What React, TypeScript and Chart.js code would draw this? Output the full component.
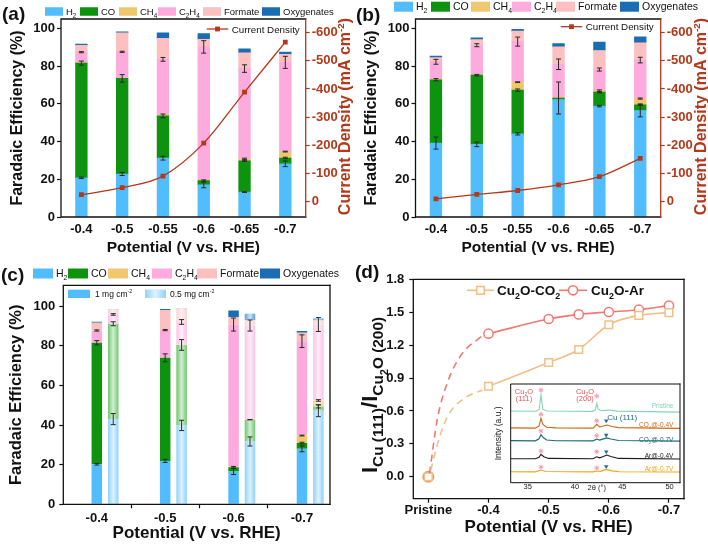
import React, { useEffect, useRef } from 'react';
import { Chart, registerables } from 'chart.js';

Chart.register(...registerables);

const FONT = "Arial, 'Liberation Sans', 'DejaVu Sans', sans-serif";
Chart.defaults.font.family = FONT;

// ---------------- data: panels (a) and (b) ----------------
const potentialsAB = ['-0.4', '-0.5', '-0.55', '-0.6', '-0.65', '-0.7'];

// (a) Faradaic efficiency (%)
const aH2 = [20.8, 22.8, 31.2, 17.0, 13.2, 28.2];
const aCO = [60.8, 50.7, 22.4, 2.3, 16.6, 3.1];
const aCH4 = [0.2, 0.2, 0.7, 0.2, 1.0, 3.4];
const aC2H4 = [5.6, 13.9, 29.3, 70.7, 47.9, 47.3];
const aFormate = [3.7, 10.0, 11.1, 4.0, 8.4, 4.2];
const aOxy = [0.6, 0.6, 3.0, 3.1, 2.1, 1.2];
const aH2Err = [0.4, 0.8, 1.0, 1.5, 0.2, 1.5];
const aCOErr = [1.1, 2.0, 1.0, 0.4, 0.3, 0.4];
const aCH4Err = [0, 0, 0, 0, 0.4, 0.2];
const aC2H4Err = [0.3, 0.3, 1.0, 3.3, 2.0, 3.2];
const aCurrent = [25, 50, 91, 208, 389, 566]; // |j| mA cm-2

// (b)
const bH2 = [39.2, 38.5, 44.1, 62.3, 58.8, 56.5];
const bCO = [33.6, 36.7, 23.2, 0.8, 7.4, 3.0];
const bCH4 = [0.2, 0.2, 4.2, 0.2, 0.7, 3.3];
const bC2H4 = [9.3, 15.7, 21.5, 17.7, 11.3, 20.4];
const bFormate = [2.2, 3.0, 5.6, 9.2, 10.1, 9.2];
const bOxy = [0.8, 0.9, 0.9, 1.8, 4.4, 3.2];
const bH2Err = [3.2, 1.2, 0.6, 0, 0.4, 3.4];
const bCOErr = [0.6, 0.4, 0.6, 8.5, 0.4, 0.3];
const bCH4Err = [0, 0, 0.2, 0, 0.5, 0.3];
const bC2H4Err = [1.3, 0.8, 2.4, 2.8, 0.8, 1.5];
const bCurrent = [10, 26, 40, 60, 89, 154];

// ---------------- data: panel (c) ----------------
const potentialsC = ['-0.4', '-0.5', '-0.6', '-0.7'];
const c1H2 = [20.2, 21.9, 16.5, 28.0];
const c1CO = [61.3, 52.0, 2.2, 2.9];
const c1CH4 = [0.2, 0.2, 0.2, 3.8];
const c1C2H4 = [6.0, 13.8, 71.8, 47.6];
const c1Formate = [3.9, 10.1, 3.7, 4.2];
const c1Oxy = [0.5, 0.5, 3.4, 1.0];
const c1H2Err = [0.4, 0.8, 1.5, 1.5];
const c1COErr = [1.1, 2.0, 0.4, 0.4];
const c1CH4Err = [0, 0, 0, 0.2];
const c1C2H4Err = [0.3, 0.3, 3.3, 3.2];

const c05H2 = [43.0, 39.8, 31.7, 47.2];
const c05CO = [48.1, 40.6, 11.0, 2.2];
const c05CH4 = [0, 0.2, 0, 3.0];
const c05C2H4 = [4.7, 11.4, 47.5, 38.3];
const c05Formate = [2.5, 6.8, 2.7, 2.0];
const c05Oxy = [0.2, 0.3, 3.2, 1.1];
const c05H2Err = [2.8, 2.6, 2.3, 3.0];
const c05COErr = [1.0, 2.7, 0.1, 0.8];
const c05CH4Err = [0, 0, 0, 0.4];
const c05C2H4Err = [0.4, 1.2, 2.8, 3.5];

// ---------------- data: panel (d) ----------------
const dTickVals = [0.3, 0.4, 0.5, 0.6, 0.7];
const dTickLabels = ['Pristine', '-0.4', '-0.5', '-0.6', '-0.7'];
const dYTicks = [0, 0.3, 0.6, 0.9, 1.2, 1.5, 1.8];
const dPotential = [0.4, 0.5, 0.55, 0.6, 0.65, 0.7];
const dCO2 = [0.825, 1.042, 1.16, 1.386, 1.471, 1.496];
const dAr = [1.304, 1.438, 1.48, 1.502, 1.523, 1.56];
const dPristine = [0.3, 0];
const dDashArX = [0.302, 0.315, 0.332, 0.354, 0.39];
const dDashArY = [0.03, 0.527, 0.862, 1.106, 1.288];
const dDashCO2X = [0.304, 0.318, 0.333, 0.361, 0.39];
const dDashCO2Y = [0.06, 0.35, 0.56, 0.72, 0.79];

// inset XRD traces: [2theta, intensity]
const xrdPristine = [[33.2, 72.6], [35.9, 72.4], [36.2, 74], [36.4, 88.9], [36.6, 74.5], [37.0, 72.6], [41.9, 72.3], [42.15, 74], [42.3, 80.4], [42.45, 74.5], [42.8, 73], [43.6, 73.6], [44.5, 72.5], [51.1, 71.5]];
const xrdCO2_04 = [[33.2, 55.5], [35.8, 55.3], [36.2, 57.5], [36.4, 65.2], [36.6, 59], [37.0, 56.2], [38, 55.5], [41.9, 55.3], [42.3, 59.2], [42.6, 56.5], [43.0, 57.5], [43.4, 58.5], [43.9, 57], [44.6, 55.8], [51.1, 55]];
const xrdCO2_07 = [[33.2, 42.6], [35.8, 42.4], [36.2, 44.5], [36.4, 48.8], [36.6, 46], [37.0, 43.3], [38, 42.5], [41.9, 42.4], [42.3, 44.2], [42.6, 43.2], [43.0, 44.4], [43.35, 45.4], [43.8, 44.3], [44.6, 42.8], [51.1, 42.1]];
const xrdAr_04 = [[33.2, 24.3], [35.8, 24.2], [36.2, 25.8], [36.4, 28.8], [36.7, 26.3], [37.2, 24.6], [41.9, 24.3], [42.3, 26.3], [42.6, 25.2], [43.0, 26.5], [43.35, 28], [43.8, 26.5], [44.6, 24.6], [51.1, 24]];
const xrdAr_07 = [[33.2, 11.1], [35.8, 11], [36.4, 12.8], [36.9, 11.3], [41.9, 11], [42.3, 11.8], [42.7, 11.5], [43.3, 13.5], [43.9, 12], [44.7, 11.1], [51.1, 10.8]];
const xrdStarX = [36.4, 42.3, 36.4, 42.3, 36.4, 42.3, 36.4, 42.3, 36.4, 42.3];
const xrdStarY = [93.9, 87.8, 69.3, 62.8, 52.4, 47.6, 32.1, 31.4, 15.8, 14.9];
const xrdCuX = [43.3, 43.3, 43.3, 43.3];
const xrdCuY = [62.8, 48.3, 31.4, 16.4];
const xrdLabelY = [77.7, 58.5, 43.3, 27.0, 13.9];

// ---------------- styles ----------------
const COL = ['#52bdfc', '#0d930d', '#efc76e', '#fdaadc', '#fcc0c0', '#1a6db3'];
const COL_LIGHT = ['#8fd2fb', '#6fc66f', '#f3d592', '#fcc3e6', '#fdd2d2', '#5f9fd6'];
const RED = '#b3391a';
const INK = '#111';

type Part = [string, string];
const LEGEND_PARTS: Part[][] = [
  [['H', 'n'], ['2', 'sub']],
  [['CO', 'n']],
  [['CH', 'n'], ['4', 'sub']],
  [['C', 'n'], ['2', 'sub'], ['H', 'n'], ['4', 'sub']],
  [['Formate', 'n']],
  [['Oxygenates', 'n']],
];

function richDraw(ctx: CanvasRenderingContext2D, parts: Part[], x: number, y: number, size: number, weight: string, color: string, align: string = 'left', subRatio: number = 0.66) {
  const spec = (k: string) =>
    k === 'sub' ? { s: size * subRatio, dy: size * 0.28 } :
    k === 'sup' ? { s: size * 0.62, dy: -size * 0.4 } :
    k === 'sub2' ? { s: size * 0.5, dy: size * 0.5 } : { s: size, dy: 0 };
  let w = 0;
  for (const [t, k] of parts) { ctx.font = `${weight} ${spec(k).s}px ${FONT}`; w += ctx.measureText(t).width; }
  let cx = align === 'left' ? x : align === 'center' ? x - w / 2 : x - w;
  ctx.save();
  ctx.fillStyle = color;
  ctx.textBaseline = 'alphabetic';
  ctx.textAlign = 'left';
  const base = y + size * 0.36;
  for (const [t, k] of parts) {
    const sp = spec(k);
    ctx.font = `${weight} ${sp.s}px ${FONT}`;
    ctx.fillText(t, cx, base + sp.dy);
    cx += ctx.measureText(t).width;
  }
  ctx.restore();
  return w;
}

function frame(ctx: CanvasRenderingContext2D, a: any, right: string = INK, lw: number = 1.3) {
  ctx.save();
  ctx.lineCap = 'square';
  ctx.lineWidth = lw;
  ctx.strokeStyle = INK;
  ctx.beginPath();
  ctx.moveTo(a.right, a.top); ctx.lineTo(a.left, a.top); ctx.lineTo(a.left, a.bottom); ctx.lineTo(a.right, a.bottom);
  ctx.stroke();
  ctx.strokeStyle = right;
  ctx.beginPath(); ctx.moveTo(a.right, a.top); ctx.lineTo(a.right, a.bottom); ctx.stroke();
  ctx.restore();
}

function panelLabel(ctx: CanvasRenderingContext2D, t: string, x: number, y: number) {
  ctx.save();
  ctx.font = `bold 19px ${FONT}`;
  ctx.fillStyle = INK;
  ctx.textBaseline = 'middle';
  ctx.textAlign = 'left';
  ctx.fillText(t, x, y);
  ctx.restore();
}

function legendRow(ctx: CanvasRenderingContext2D, xs: number[], y: number, sw: number, sh: number, font: number) {
  LEGEND_PARTS.forEach((p, i) => {
    ctx.fillStyle = COL[i];
    ctx.fillRect(xs[i], y - sh / 2, sw, sh);
    richDraw(ctx, p, xs[i] + sw + 3, y, font, 'normal', INK);
  });
}

function shineRect(ctx: CanvasRenderingContext2D, x0: number, y0: number, w: number, h: number) {
  const g = ctx.createLinearGradient(x0, 0, x0 + w, 0);
  g.addColorStop(0, 'rgba(255,255,255,0)');
  g.addColorStop(0.5, 'rgba(255,255,255,0.7)');
  g.addColorStop(1, 'rgba(255,255,255,0)');
  ctx.fillStyle = g;
  ctx.fillRect(x0, y0, w, h);
}

function valOf(v: any) { return typeof v === 'object' && v !== null ? v.y : v; }

function drawShine(chart: any) {
  const ctx = chart.ctx;
  chart.data.datasets.forEach((ds: any, di: number) => {
    if (!ds.shine) return;
    chart.getDatasetMeta(di).data.forEach((el: any) => {
      const p = el.getProps(['x', 'y', 'base', 'width'], true);
      shineRect(ctx, p.x - p.width / 2, Math.min(p.y, p.base), p.width, Math.abs(p.base - p.y));
    });
  });
}

function drawErrors(chart: any) {
  const ctx = chart.ctx;
  const ys = chart.scales.y;
  ctx.save();
  ctx.strokeStyle = '#2a2a2a';
  ctx.lineWidth = 1;
  chart.data.datasets.forEach((ds: any, di: number) => {
    if (!ds.err) return;
    const meta = chart.getDatasetMeta(di);
    meta.data.forEach((el: any, j: number) => {
      const e = ds.err[j];
      if (!e) return;
      let top = 0;
      for (let k = 0; k <= di; k++) {
        const d2: any = chart.data.datasets[k];
        if (d2.type === 'line' || d2.stack !== ds.stack) continue;
        top += valOf(d2.data[j]);
      }
      const yA = ys.getPixelForValue(top + e);
      const yB = ys.getPixelForValue(top - e);
      const x = el.x;
      const cap = 2.5;
      ctx.beginPath();
      ctx.moveTo(x, yA); ctx.lineTo(x, yB);
      ctx.moveTo(x - cap, yA); ctx.lineTo(x + cap, yA);
      ctx.moveTo(x - cap, yB); ctx.lineTo(x + cap, yB);
      ctx.stroke();
    });
  });
  ctx.restore();
}

const tickFont = (s: number = 13) => ({ family: FONT, size: s, weight: 'bold' as const });

// ---------------- panel builders ----------------
function buildAB(series: number[][], errs: (number[] | null)[], current: number[], L: any) {
  const datasets: any[] = series.map((d, i) => ({
    type: 'bar', data: d, backgroundColor: COL[i], borderWidth: 0, barThickness: 11.7,
    err: errs[i], yAxisID: 'y', order: 1,
  }));
  datasets.push({
    type: 'line', data: current, yAxisID: 'y1', borderColor: RED, backgroundColor: RED,
    borderWidth: 1.3, pointStyle: 'rect', pointRadius: 3.4, pointBorderWidth: 0,
    cubicInterpolationMode: 'monotone', order: 0,
  });
  const plugin = {
    id: 'abDeco',
    afterDatasetsDraw(chart: any) { drawErrors(chart); },
    afterDraw(chart: any) {
      const ctx = chart.ctx;
      frame(ctx, chart.chartArea, RED);
      ctx.save();
      ctx.translate(L.rtX, 116.5);
      ctx.rotate(-Math.PI / 2);
      richDraw(ctx, [['Current Density (mA cm', 'n'], ['-2', 'sup'], [')', 'n']], 0, 0, 16, 'bold', RED, 'center');
      ctx.restore();
      legendRow(ctx, L.legendXs, L.legendY, L.sw, L.sh, L.legendFont);
      // current-density legend
      ctx.save();
      ctx.strokeStyle = RED; ctx.lineWidth = 1.3;
      ctx.beginPath(); ctx.moveTo(L.cdX, L.cdY); ctx.lineTo(L.cdX + 21.6, L.cdY); ctx.stroke();
      ctx.fillStyle = RED; ctx.fillRect(L.cdX + 10.8 - 2.4, L.cdY - 2.4, 4.8, 4.8);
      ctx.restore();
      richDraw(ctx, [['Current Density', 'n']], L.cdX + 25, L.cdY, 9.8, 'normal', INK);
      panelLabel(ctx, L.label, 2, L.labelY);
    },
  };
  return {
    type: 'bar',
    data: { labels: potentialsAB, datasets },
    options: {
      animation: false, responsive: false, devicePixelRatio: 1, events: [],
      layout: { padding: { top: 19, left: 0, right: 0, bottom: 0 } },
      plugins: { legend: { display: false }, tooltip: { enabled: false } },
      scales: {
        x: {
          stacked: true, afterFit: (s: any) => { s.height = 55; },
          grid: { display: false, drawTicks: false }, border: { display: false },
          ticks: { font: tickFont(13), color: INK, padding: 5 },
          title: { display: true, text: 'Potential (V vs. RHE)', font: tickFont(15.5), color: INK, padding: { top: 0, bottom: 15 } },
        },
        y: {
          stacked: true, position: 'left', min: 0, max: 105,
          afterFit: (s: any) => { s.width = L.yW; },
          afterBuildTicks: (s: any) => { s.ticks = [0, 20, 40, 60, 80, 100].map((v) => ({ value: v })); },
          grid: { drawOnChartArea: false, tickLength: 4, tickColor: INK, tickWidth: 1.2 }, border: { display: false },
          ticks: { font: tickFont(13), color: INK, padding: 2 },
          title: { display: true, text: 'Faradaic Efficiency (%)', font: tickFont(16), color: INK, padding: { top: 8.4, bottom: 0 } },
        },
        y1: {
          position: 'right', min: -54, max: 648,
          afterFit: (s: any) => { s.width = L.y1W; },
          afterBuildTicks: (s: any) => { s.ticks = [0, 100, 200, 300, 400, 500, 600].map((v) => ({ value: v })); },
          grid: { drawOnChartArea: false, tickLength: 4, tickColor: RED, tickWidth: 1.2 }, border: { display: false },
          ticks: { font: tickFont(13), color: RED, padding: 2, callback: (v: any) => (v === 0 ? '0' : '-' + v) },
        },
      },
    },
    plugins: [plugin],
  };
}

function buildC() {
  const s1 = [c1H2, c1CO, c1CH4, c1C2H4, c1Formate, c1Oxy];
  const e1 = [c1H2Err, c1COErr, c1CH4Err, c1C2H4Err, null, null];
  const s2 = [c05H2, c05CO, c05CH4, c05C2H4, c05Formate, c05Oxy];
  const e2 = [c05H2Err, c05COErr, c05CH4Err, c05C2H4Err, null, null];
  const common = { type: 'bar', borderWidth: 0, grouped: false, barPercentage: 0.64, categoryPercentage: 1 };
  const datasets: any[] = [];
  s1.forEach((d, i) => datasets.push({ ...common, stack: 'm1', data: d.map((v, k) => ({ x: k, y: v })), backgroundColor: COL[i], err: e1[i] }));
  s2.forEach((d, i) => datasets.push({ ...common, stack: 'm05', shine: true, data: d.map((v, k) => ({ x: k + 0.24, y: v })), backgroundColor: COL_LIGHT[i], err: e2[i] }));
  const plugin = {
    id: 'cDeco',
    afterDatasetsDraw(chart: any) { drawShine(chart); drawErrors(chart); },
    afterDraw(chart: any) {
      const ctx = chart.ctx;
      frame(ctx, chart.chartArea);
      legendRow(ctx, [33, 68, 108, 152, 197, 260], 11.5, 20, 10, 10.5);
      // inner legend
      ctx.fillStyle = COL[0];
      ctx.fillRect(68, 27.7, 22, 8.3);
      richDraw(ctx, [['1 mg cm', 'n'], ['-2', 'sup']], 95, 31.8, 8.5, 'normal', INK);
      ctx.fillStyle = COL_LIGHT[0];
      ctx.fillRect(145, 27.7, 21, 8.3);
      shineRect(ctx, 145, 27.7, 21, 8.3);
      richDraw(ctx, [['0.5 mg cm', 'n'], ['-2', 'sup']], 170, 31.8, 8.5, 'normal', INK);
      panelLabel(ctx, '(c)', 1, 13.5);
    },
  };
  return {
    type: 'bar',
    data: { datasets },
    options: {
      animation: false, responsive: false, devicePixelRatio: 1, events: [],
      layout: { padding: { top: 23.3, left: 0, right: 24, bottom: 0 } },
      plugins: { legend: { display: false }, tooltip: { enabled: false } },
      scales: {
        x: {
          type: 'linear', min: -0.49, max: 3.41, offset: false,
          afterFit: (s: any) => { s.height = 39.7; },
          afterBuildTicks: (s: any) => { s.ticks = [0, 1, 2, 3].map((v) => ({ value: v })); },
          grid: { drawOnChartArea: false, tickLength: 4, tickColor: INK, tickWidth: 1.2 }, border: { display: false },
          ticks: { font: tickFont(13), color: INK, padding: 2.5, callback: (v: any, i: number) => potentialsC[i] },
          title: { display: true, text: 'Potential (V vs. RHE)', font: tickFont(17), color: INK, padding: { top: 0, bottom: 0 } },
        },
        y: {
          stacked: true, min: 0, max: 110.5,
          afterFit: (s: any) => { s.width = 63.3; },
          afterBuildTicks: (s: any) => { s.ticks = [0, 20, 40, 60, 80, 100].map((v) => ({ value: v })); },
          grid: { drawOnChartArea: false, tickLength: 4, tickColor: INK, tickWidth: 1.2 }, border: { display: false },
          ticks: { font: tickFont(13), color: INK, padding: 4 },
          title: { display: true, text: 'Faradaic Efficiency (%)', font: tickFont(16.5), color: INK, padding: { top: 6.8, bottom: 0 } },
        },
      },
    },
    plugins: [plugin],
  };
}

const CO2C = '#f2bf86';
const ARC = '#ee7a73';

function buildD() {
  const pts = (xs: number[], ys: number[]) => xs.map((x, i) => ({ x, y: ys[i] }));
  const datasets: any[] = [
    { data: pts(dDashCO2X, dDashCO2Y), showLine: true, borderColor: CO2C, borderWidth: 1.6, borderDash: [7, 5], pointRadius: 0, cubicInterpolationMode: 'monotone' },
    { data: pts(dDashArX, dDashArY), showLine: true, borderColor: ARC, borderWidth: 1.6, borderDash: [7, 5], pointRadius: 0, cubicInterpolationMode: 'monotone' },
    { data: pts(dPotential, dCO2), showLine: true, borderColor: CO2C, borderWidth: 1.6, pointStyle: 'rect', pointRadius: 5.4, pointBorderWidth: 1.5, pointBackgroundColor: '#fff', pointBorderColor: CO2C, cubicInterpolationMode: 'monotone' },
    { data: pts(dPotential, dAr), showLine: true, borderColor: ARC, borderWidth: 1.6, pointStyle: 'circle', pointRadius: 4.6, pointBorderWidth: 1.5, pointBackgroundColor: '#fff', pointBorderColor: ARC, cubicInterpolationMode: 'monotone' },
    { data: [{ x: dPristine[0], y: dPristine[1] }], pointStyle: 'rect', pointRadius: 5.4, pointBorderWidth: 1.5, pointBackgroundColor: '#fff', pointBorderColor: CO2C },
    { data: [{ x: dPristine[0], y: dPristine[1] }], pointStyle: 'circle', pointRadius: 5, pointBorderWidth: 2, pointBackgroundColor: 'rgba(242,191,134,0.6)', pointBorderColor: '#f0946c' },
  ];
  const plugin = {
    id: 'dDeco',
    afterDraw(chart: any) {
      const ctx = chart.ctx;
      frame(ctx, chart.chartArea);
      // legend
      ctx.save();
      ctx.lineWidth = 1.6;
      ctx.strokeStyle = CO2C;
      ctx.beginPath(); ctx.moveTo(113, 28.3); ctx.lineTo(140, 28.3); ctx.stroke();
      ctx.fillStyle = '#fff';
      ctx.fillRect(122.7, 24.5, 7.6, 7.6); ctx.strokeRect(122.7, 24.5, 7.6, 7.6);
      ctx.strokeStyle = ARC;
      ctx.beginPath(); ctx.moveTo(205, 28.3); ctx.lineTo(233, 28.3); ctx.stroke();
      ctx.beginPath(); ctx.arc(219, 28.3, 4.6, 0, Math.PI * 2); ctx.fill(); ctx.stroke();
      ctx.restore();
      richDraw(ctx, [['Cu', 'n'], ['2', 'sub'], ['O-CO', 'n'], ['2', 'sub']], 143, 28.3, 13.5, 'bold', INK);
      richDraw(ctx, [['Cu', 'n'], ['2', 'sub'], ['O-Ar', 'n']], 237, 28.3, 13.5, 'bold', INK);
      // y title
      ctx.save();
      ctx.translate(15, 133);
      ctx.rotate(-Math.PI / 2);
      richDraw(ctx, [['I', 'n'], ['Cu (111)', 'sub'], ['/I', 'n'], ['Cu', 'sub'], ['2', 'sub2'], ['O (200)', 'sub']], 0, 0, 22, 'bold', INK, 'center', 0.7);
      ctx.restore();
      panelLabel(ctx, '(d)', 1, 11);
    },
  };
  return {
    type: 'scatter',
    data: { datasets },
    options: {
      animation: false, responsive: false, devicePixelRatio: 1, events: [],
      layout: { padding: { top: 17.3, left: 0, right: 24, bottom: 0 } },
      plugins: { legend: { display: false }, tooltip: { enabled: false } },
      scales: {
        x: {
          type: 'linear', min: 0.275, max: 0.725,
          afterFit: (s: any) => { s.height = 45.3; },
          afterBuildTicks: (s: any) => { s.ticks = dTickVals.map((v) => ({ value: v })); },
          grid: { drawOnChartArea: false, tickLength: 4, tickColor: INK, tickWidth: 1.2 }, border: { display: false },
          ticks: { font: tickFont(13), color: INK, padding: 0, callback: (v: any, i: number) => dTickLabels[i] },
          title: { display: true, text: 'Potential (V vs. RHE)', font: tickFont(17), color: INK, padding: { top: 0, bottom: 6.8 } },
        },
        y: {
          type: 'linear', min: -0.2, max: 1.8,
          afterFit: (s: any) => { s.width = 59.3; },
          afterBuildTicks: (s: any) => { s.ticks = dYTicks.map((v) => ({ value: v })); },
          grid: { drawOnChartArea: false, tickLength: 4, tickColor: INK, tickWidth: 1.2 }, border: { display: false },
          ticks: { font: tickFont(13), color: INK, padding: 5, callback: (v: any) => Number(v).toFixed(1) },
        },
      },
    },
    plugins: [plugin],
  };
}

const XRD_COLORS = ['#86d3b5', '#cc6a14', '#1b6a7a', '#1c1c1c', '#f2a514'];
const XRD_LABELS: Part[][] = [
  [['Pristine', 'n']],
  [['CO', 'n'], ['2', 'sub'], ['@-0.4V', 'n']],
  [['CO', 'n'], ['2', 'sub'], ['@-0.7V', 'n']],
  [['Ar@-0.4V', 'n']],
  [['Ar@-0.7V', 'n']],
];

function buildInset() {
  const traces = [xrdPristine, xrdCO2_04, xrdCO2_07, xrdAr_04, xrdAr_07];
  const datasets: any[] = traces.map((t, i) => ({
    data: t.map(([x, y]) => ({ x, y })), showLine: true, borderColor: XRD_COLORS[i], borderWidth: 1.1, pointRadius: 0, tension: 0,
  }));
  datasets.push({ data: xrdStarX.map((x, i) => ({ x, y: xrdStarY[i] })), pointStyle: 'star', pointRadius: 2.4, pointBorderWidth: 1, pointBorderColor: '#f29aaf', pointBackgroundColor: '#f29aaf' });
  datasets.push({ data: xrdCuX.map((x, i) => ({ x, y: xrdCuY[i] })), pointStyle: 'triangle', rotation: 180, pointRotation: 180, pointRadius: 2.6, pointBorderWidth: 0, pointBackgroundColor: '#1d6e9c' });
  const plugin = {
    id: 'insetDeco',
    beforeDatasetsDraw(chart: any) {
      const { ctx, chartArea: a } = chart;
      ctx.save(); ctx.fillStyle = '#fff'; ctx.fillRect(a.left, a.top, a.right - a.left, a.bottom - a.top); ctx.restore();
    },
    afterDraw(chart: any) {
      const { ctx, chartArea: a, scales } = chart;
      const X = (v: number) => scales.x.getPixelForValue(v);
      const Y = (v: number) => scales.y.getPixelForValue(v);
      frame(ctx, a, INK, 1);
      const red = '#e0565b';
      richDraw(ctx, [['Cu', 'n'], ['2', 'sub'], ['O', 'n']], X(34.6), Y(92.5), 7.5, 'normal', red, 'center');
      richDraw(ctx, [['(111)', 'n']], X(34.6), Y(85.5), 7.5, 'normal', red, 'center');
      richDraw(ctx, [['Cu', 'n'], ['2', 'sub'], ['O', 'n']], X(41.06), Y(92.5), 7.5, 'normal', red, 'center');
      richDraw(ctx, [['(200)', 'n']], X(41.06), Y(85.5), 7.5, 'normal', red, 'center');
      richDraw(ctx, [['Cu (111)', 'n']], X(45.0), Y(66.9), 8, 'normal', '#1d6e9c', 'center');
      XRD_LABELS.forEach((p, i) => richDraw(ctx, p, X(50.4), Y(xrdLabelY[i]), 6.5, 'normal', XRD_COLORS[i], 'right'));
      richDraw(ctx, [['2θ (°)', 'n']], X(42.3), a.bottom + 4.4, 7.5, 'normal', '#222', 'center');
    },
  };
  return {
    type: 'scatter',
    data: { datasets },
    options: {
      animation: false, responsive: false, devicePixelRatio: 1, events: [],
      layout: { padding: { top: 6, left: 0, right: 1, bottom: 0 } },
      plugins: { legend: { display: false }, tooltip: { enabled: false } },
      scales: {
        x: {
          type: 'linear', min: 33.2, max: 51.1,
          afterFit: (s: any) => { s.height = 13.3; },
          afterBuildTicks: (s: any) => { s.ticks = [35, 40, 45, 50].map((v) => ({ value: v })); },
          grid: { display: false, drawTicks: false }, border: { display: false },
          ticks: { font: { family: FONT, size: 7.5 }, color: '#222', padding: 0 },
        },
        y: {
          min: 0, max: 100,
          afterFit: (s: any) => { s.width = 20.7; },
          grid: { display: false, drawTicks: false }, border: { display: false },
          ticks: { display: false },
          title: { display: true, text: 'Intensity (a.u.)', font: { family: FONT, size: 8.5 }, color: '#222', padding: { top: 4, bottom: 0 } },
        },
      },
    },
    plugins: [plugin],
  };
}

function ChartBox({ x, y, w, h, build }: { x: number; y: number; w: number; h: number; build: () => any }) {
  const ref = useRef<HTMLCanvasElement>(null);
  useEffect(() => {
    const chart = new Chart(ref.current as HTMLCanvasElement, build());
    return () => chart.destroy();
  }, []);
  return (
    <div style={{ position: 'absolute', left: x, top: y, width: w, height: h }}>
      <canvas ref={ref} width={w} height={h} style={{ width: w, height: h, display: 'block' }} />
    </div>
  );
}

export default function App() {
  return (
    <div style={{ position: 'absolute', left: 0, top: 0, width: 708, height: 544, background: '#fff', overflow: 'hidden' }}>
      <ChartBox x={0} y={0} w={354} h={272} build={() => buildAB(
        [aH2, aCO, aCH4, aC2H4, aFormate, aOxy],
        [aH2Err, aCOErr, aCH4Err, aC2H4Err, null, null],
        aCurrent,
        { yW: 61, y1W: 48.3, legendXs: [45, 80, 119, 158, 203, 262], legendY: 11.5, sw: 18, sh: 8.5, legendFont: 9.5, cdX: 206.7, cdY: 29, label: '(a)', labelY: 14.5, rtX: 344.5 })} />
      <ChartBox x={354} y={0} w={354} h={272} build={() => buildAB(
        [bH2, bCO, bCH4, bC2H4, bFormate, bOxy],
        [bH2Err, bCOErr, bCH4Err, bC2H4Err, null, null],
        bCurrent,
        { yW: 61.5, y1W: 47.3, legendXs: [40, 77, 117, 158, 202, 266], legendY: 6.7, sw: 19, sh: 10, legendFont: 10.5, cdX: 206.7, cdY: 26.7, label: '(b)', labelY: 15.5, rtX: 346.5 })} />
      <ChartBox x={0} y={262} w={354} h={282} build={buildC} />
      <ChartBox x={354} y={262} w={354} h={282} build={buildD} />
      <ChartBox x={490} y={378} w={195} h={118} build={buildInset} />
    </div>
  );
}
